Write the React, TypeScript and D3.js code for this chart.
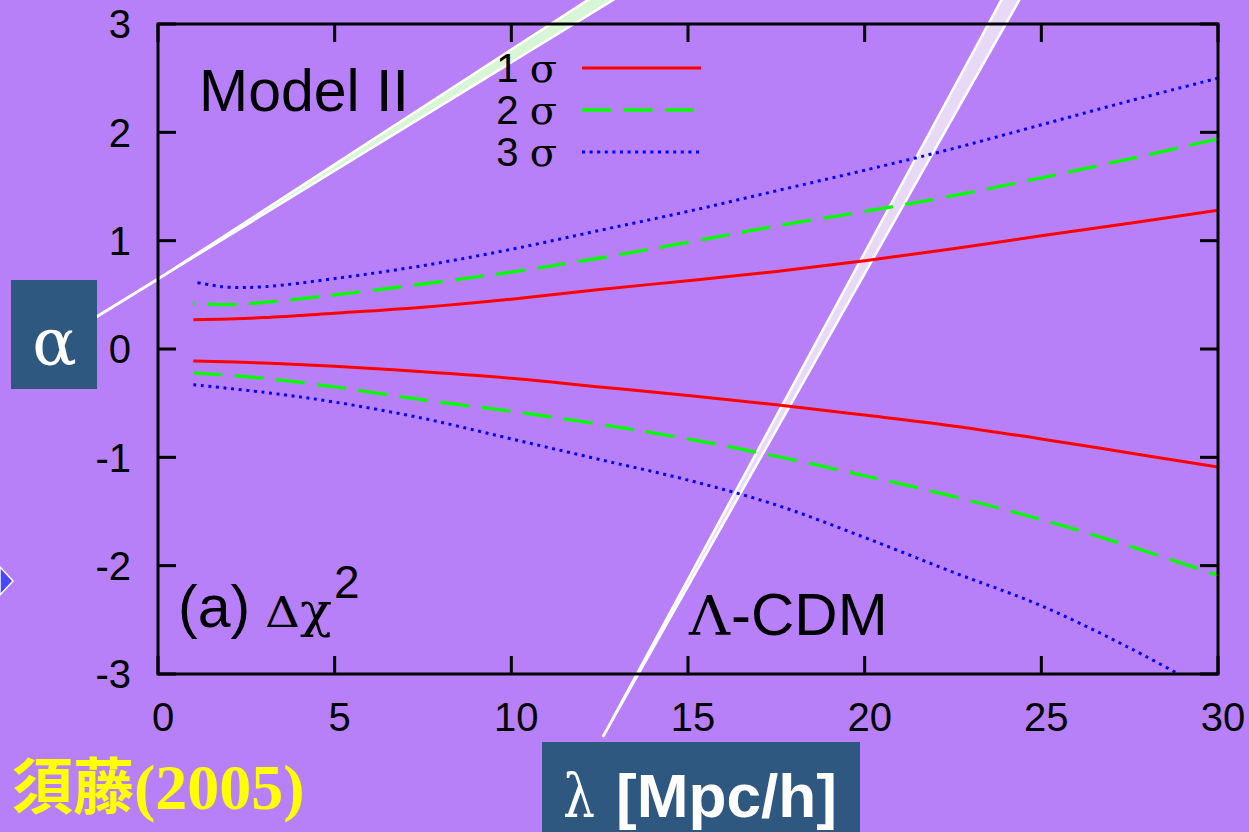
import React from "react";
import * as d3 from "d3";

const WIDTH = 1249;
const HEIGHT = 832;
const PLOT = { left: 158, right: 1218, top: 24, bottom: 674 };

const xTickValues = [0, 5, 10, 15, 20, 25, 30];
const yTickValues = [-3, -2, -1, 0, 1, 2, 3];

// 1σ contour branches
const sigma1X = [1, 3, 5, 7.5, 10, 12.5, 15, 17.5, 20, 22.5, 25, 27.5, 30];
const sigma1Upper = [0.27, 0.29, 0.33, 0.385, 0.46, 0.55, 0.63, 0.715, 0.815, 0.925, 1.045, 1.16, 1.28];
const sigma1Lower = [-0.11, -0.13, -0.16, -0.21, -0.27, -0.35, -0.43, -0.515, -0.61, -0.71, -0.83, -0.96, -1.09];

// 2σ contour branches
const sigma2UpperX = [1, 2, 3, 5, 7.5, 10, 12.5, 15, 17.5, 20, 22.5, 25, 27.5, 30];
const sigma2Upper = [0.42, 0.41, 0.43, 0.5, 0.6, 0.71, 0.84, 0.985, 1.135, 1.27, 1.415, 1.58, 1.755, 1.94];
const sigma2LowerX = [1, 3, 5, 7.5, 10, 12.5, 15, 17.5, 20, 22.5, 25, 27.5, 30];
const sigma2Lower = [-0.22, -0.27, -0.35, -0.47, -0.575, -0.695, -0.83, -0.99, -1.17, -1.36, -1.575, -1.82, -2.09];

// 3σ contour branches
const sigma3UpperX = [1, 1.5, 2, 3, 5, 7.5, 10, 12.5, 15, 17.5, 20, 22.5, 25, 27.5, 30];
const sigma3Upper = [0.62, 0.59, 0.57, 0.575, 0.65, 0.77, 0.92, 1.095, 1.27, 1.46, 1.65, 1.85, 2.07, 2.29, 2.5];
const sigma3LowerX = [1, 3, 5, 7.5, 10, 12.5, 15, 17.5, 20, 22.5, 25, 27.5, 30];
const sigma3Lower = [-0.33, -0.4, -0.49, -0.64, -0.83, -1.02, -1.21, -1.44, -1.74, -2.06, -2.37, -2.76, -3.2];

// Overlay bands (data coordinates): a tail, an apex and the two far edge ends
const bandATail: [number, number] = [-2.77, 0.09];
const bandAApex: [number, number] = [0, 0.646];
const bandAEnds: [number, number][] = [[13.48, 3.5], [14.27, 3.5]];
const bandBApex: [number, number] = [12.59, -3.58];
const bandBEnds: [number, number][] = [[24.33, 3.5], [24.86, 3.5]];

const legendItems = [
  { label: "1", color: "#ff0000", dash: "none", width: 3 },
  { label: "2", color: "#00ff00", dash: "29 12.5", width: 3.3 },
  { label: "3", color: "#0000ff", dash: "3 4.6", width: 3 },
];

const BG = "#b880f8";
const BOX = "#2e5880";
const SANS = "'Liberation Sans', Arial, sans-serif";
const SERIF = "'Liberation Serif', 'Times New Roman', serif";
const GREEK = "'DejaVu Serif', serif";

const zip = (xs: number[], ys: number[]) => xs.map((x, i) => [x, ys[i]] as [number, number]);

export default function App() {
  const x = d3.scaleLinear().domain([0, 30]).range([PLOT.left, PLOT.right]);
  const y = d3.scaleLinear().domain([-3, 3]).range([PLOT.bottom, PLOT.top]);
  const line = d3
    .line<[number, number]>()
    .x((d) => x(d[0]))
    .y((d) => y(d[1]))
    .curve(d3.curveCatmullRom.alpha(0.5));
  const straight = d3
    .line<[number, number]>()
    .x((d) => x(d[0]))
    .y((d) => y(d[1]));

  // upper branches are traced from the right edge toward x = 1
  const curves = [
    { d: line(zip(sigma1X, sigma1Upper).reverse()), ...legendItems[0] },
    { d: line(zip(sigma1X, sigma1Lower)), ...legendItems[0] },
    { d: line(zip(sigma2UpperX, sigma2Upper).reverse()), ...legendItems[1] },
    { d: line(zip(sigma2LowerX, sigma2Lower)), ...legendItems[1] },
    { d: line(zip(sigma3UpperX, sigma3Upper).reverse()), ...legendItems[2] },
    { d: line(zip(sigma3LowerX, sigma3Lower)), ...legendItems[2] },
  ];

  const bandAPoly = straight([bandAApex, bandAEnds[0], bandAEnds[1]]) + "Z";
  const bandBPoly = straight([bandBApex, bandBEnds[0], bandBEnds[1]]) + "Z";

  const tickLen = 18;

  return (
    <svg
      width={WIDTH}
      height={HEIGHT}
      viewBox={`0 0 ${WIDTH} ${HEIGHT}`}
      style={{ position: "absolute", left: 0, top: 0, display: "block" }}
    >
      <defs>
        <clipPath id="plot-clip">
          <rect x={PLOT.left} y={PLOT.top} width={PLOT.right - PLOT.left} height={PLOT.bottom - PLOT.top} />
        </clipPath>
      </defs>
      <rect x={0} y={0} width={WIDTH} height={HEIGHT} fill={BG} />

      {/* overlay bands */}
      <g>
        <path d={straight([bandATail, bandAApex]) || ""} stroke="#ffffff" strokeWidth={3} fill="none" />
        <path d={bandAPoly} fill="#d8f6d6" stroke="none" />
        <path d={straight([bandAApex, bandAEnds[0]]) || ""} stroke="#ffffff" strokeWidth={2.5} fill="none" />
        <path d={straight([bandAApex, bandAEnds[1]]) || ""} stroke="#ffffff" strokeWidth={2.5} fill="none" />
        <path d={bandBPoly} fill="#e8daf7" stroke="none" />
        <path d={straight([bandBApex, bandBEnds[0]]) || ""} stroke="#ffffff" strokeWidth={2.5} fill="none" />
        <path d={straight([bandBApex, bandBEnds[1]]) || ""} stroke="#ffffff" strokeWidth={2.5} fill="none" />
      </g>

      {/* contour curves */}
      <g clipPath="url(#plot-clip)">
        {curves.map((c, i) => (
          <path
            key={i}
            d={c.d || ""}
            fill="none"
            stroke={c.color}
            strokeWidth={c.width}
            strokeDasharray={c.dash}
          />
        ))}
      </g>

      {/* frame and ticks */}
      <g stroke="#000" strokeWidth={3}>
        <rect
          x={PLOT.left}
          y={PLOT.top}
          width={PLOT.right - PLOT.left}
          height={PLOT.bottom - PLOT.top}
          fill="none"
        />
        {xTickValues.map((v) => (
          <g key={`xt${v}`}>
            <line x1={x(v)} x2={x(v)} y1={PLOT.bottom} y2={PLOT.bottom - tickLen} />
            <line x1={x(v)} x2={x(v)} y1={PLOT.top} y2={PLOT.top + tickLen} />
          </g>
        ))}
        {yTickValues.map((v) => (
          <g key={`yt${v}`}>
            <line x1={PLOT.left} x2={PLOT.left + tickLen} y1={y(v)} y2={y(v)} />
            <line x1={PLOT.right} x2={PLOT.right - tickLen} y1={y(v)} y2={y(v)} />
          </g>
        ))}
      </g>

      {/* tick labels */}
      <g fontFamily={SANS} fontSize={40} fill="#000">
        {xTickValues.map((v) => (
          <text key={`xl${v}`} x={x(v) + 5} y={731} textAnchor="middle">
            {v}
          </text>
        ))}
        {yTickValues.map((v) => (
          <text key={`yl${v}`} x={131} y={y(v)} dy="0.36em" textAnchor="end">
            {v}
          </text>
        ))}
      </g>

      {/* legend */}
      <g fontFamily={SANS} fontSize={40} fill="#000">
        {legendItems.map((item, i) => {
          const base = 82 + i * 42;
          return (
            <g key={`lg${i}`}>
              <text x={557} y={base} textAnchor="end">
                {item.label}{" "}
                <tspan fontFamily={GREEK} fontSize={40}>σ</tspan>
              </text>
              <line
                x1={582}
                x2={701}
                y1={base - 14}
                y2={base - 14}
                stroke={item.color}
                strokeWidth={item.width}
                strokeDasharray={item.dash}
              />
            </g>
          );
        })}
      </g>

      {/* annotations */}
      <text x={199} y={111} fontFamily={SANS} fontSize={59} fill="#000">
        Model II
      </text>
      <g fill="#000">
        <text x={178} y={627} fontFamily={SANS} fontSize={59}>
          (a)
        </text>
        <text x={265} y={627} fontFamily={GREEK} fontSize={43} textLength={35} lengthAdjust="spacingAndGlyphs">
          Δ
        </text>
        <text x={300} y={627} fontFamily={GREEK} fontSize={48} textLength={32} lengthAdjust="spacingAndGlyphs">
          χ
        </text>
        <text x={334} y={598} fontFamily={SANS} fontSize={46}>
          2
        </text>
        <text x={689} y={635} fontFamily={GREEK} fontSize={55} textLength={41} lengthAdjust="spacingAndGlyphs">
          Λ
        </text>
        <text x={731} y={635} fontFamily={SANS} fontSize={60}>
          -CDM
        </text>
      </g>

      {/* axis title boxes */}
      <rect x={11} y={280} width={86} height={109} fill={BOX} />
      <text x={54.5} y={365} fontFamily={GREEK} fontSize={66} fill="#fff" textAnchor="middle">
        α
      </text>
      <rect x={542} y={742} width={318} height={HEIGHT - 742} fill={BOX} />
      <text x={563} y={817} fill="#fff" fontFamily={GREEK} fontSize={60} textLength={32} lengthAdjust="spacingAndGlyphs">
        λ
      </text>
      <text x={616} y={817} fontFamily={SANS} fontWeight="bold" fontSize={61} fill="#fff" textLength={221} lengthAdjust="spacingAndGlyphs">
        [Mpc/h]
      </text>

      {/* citation */}
      <text x={12} y={809} fill="#ffff00" fontWeight="bold">
        <tspan fontFamily="'Noto Sans CJK JP', sans-serif" fontSize={61}>須藤</tspan>
        <tspan fontFamily={SERIF} fontSize={64}>(2005)</tspan>
      </text>

      {/* slide bullet marker */}
      <polygon points="0,567 13,581 0,595" fill="#4848ff" stroke="#ffffff" strokeWidth={1.5} />
    </svg>
  );
}
